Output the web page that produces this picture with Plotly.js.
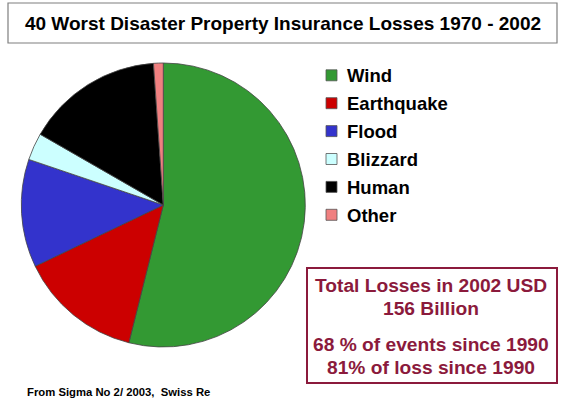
<!DOCTYPE html>
<html>
<head>
<meta charset="utf-8">
<script src="https://cdn.plot.ly/plotly-3.0.1.min.js"></script>
<style>html,body{margin:0;padding:0;background:#fff;}#chart{width:565px;height:401px;}</style>
</head>
<body>
<div id="chart"></div>
<script>
const categories = ["Wind", "Earthquake", "Flood", "Blizzard", "Human", "Other"];
const lossShare = [53.9, 14.0, 12.3, 3.1, 15.6, 1.1];
const sliceColors = ["#339933", "#cc0000", "#3333cc", "#ccffff", "#000000", "#f08080"];
const titleText = "40 Worst Disaster Property Insurance Losses 1970 - 2002";
const boxLines = ["Total Losses in 2002 USD", "156 Billion", "68 % of events since 1990", "81% of loss since 1990"];
const sourceText = "From Sigma No 2/ 2003,  Swiss Re";

const W = 565, H = 401;
const px = x => x / W;
const py = y => 1 - y / H;
const FONT = "Liberation Sans, Arial, sans-serif";
const MAROON = "#8b1a3c";

const cx = 163.3, cy = 205, r = 142;

const shapes = [];
const annotations = [];

// title box
shapes.push({type: "rect", xref: "paper", yref: "paper", x0: px(8), x1: px(557), y0: py(3), y1: py(43),
  line: {color: "#7f7f7f", width: 1.2}, fillcolor: "rgba(0,0,0,0)"});

// legend
categories.forEach((c, i) => {
  const yc = 75.3 + i * 27.9;
  shapes.push({type: "rect", xref: "paper", yref: "paper", x0: px(326), x1: px(337), y0: py(yc - 5.5), y1: py(yc + 5.5),
    fillcolor: sliceColors[i], line: {color: "#555555", width: 0.8}});
  annotations.push({xref: "paper", yref: "paper", x: px(345), y: py(yc + 0.5), xanchor: "left", yanchor: "middle",
    text: "<b>" + c + "</b>", showarrow: false, font: {family: FONT, size: 18.5, color: "#000"}});
});

// info box
shapes.push({type: "rect", xref: "paper", yref: "paper", x0: px(307), x1: px(557), y0: py(268), y1: py(383),
  line: {color: MAROON, width: 2}, fillcolor: "rgba(0,0,0,0)"});
const boxY = [285, 308, 344, 367];
boxLines.forEach((t, i) => {
  annotations.push({xref: "paper", yref: "paper", x: px(431), y: py(boxY[i]), xanchor: "center", yanchor: "middle",
    text: "<b>" + t + "</b>", showarrow: false, font: {family: FONT, size: 19.2, color: MAROON}});
});

// source
annotations.push({xref: "paper", yref: "paper", x: px(25), y: py(392), xanchor: "left", yanchor: "middle",
  text: "<b>" + sourceText + "</b>", showarrow: false, font: {family: FONT, size: 11.3, color: "#000"}});

const data = [{
  type: "pie",
  labels: categories,
  values: lossShare,
  sort: false,
  direction: "clockwise",
  rotation: 0,
  textinfo: "none",
  hoverinfo: "label+percent",
  marker: {colors: sliceColors, line: {color: "#444444", width: 0.8}},
  domain: {x: [px(cx - r), px(cx + r)], y: [py(cy + r), py(cy - r)]},
  showlegend: false
}];

const layout = {
  width: W, height: H,
  margin: {l: 0, r: 0, t: 0, b: 0},
  paper_bgcolor: "#ffffff",
  plot_bgcolor: "#ffffff",
  showlegend: false,
  title: {text: "<b>" + titleText + "</b>", x: px(283), xanchor: "center", xref: "paper",
    y: py(23.5), yanchor: "middle", yref: "paper", font: {family: FONT, size: 19, color: "#000"}},
  shapes: shapes,
  annotations: annotations
};

Plotly.newPlot("chart", data, layout, {displayModeBar: false, staticPlot: true});
</script>
</body>
</html>
